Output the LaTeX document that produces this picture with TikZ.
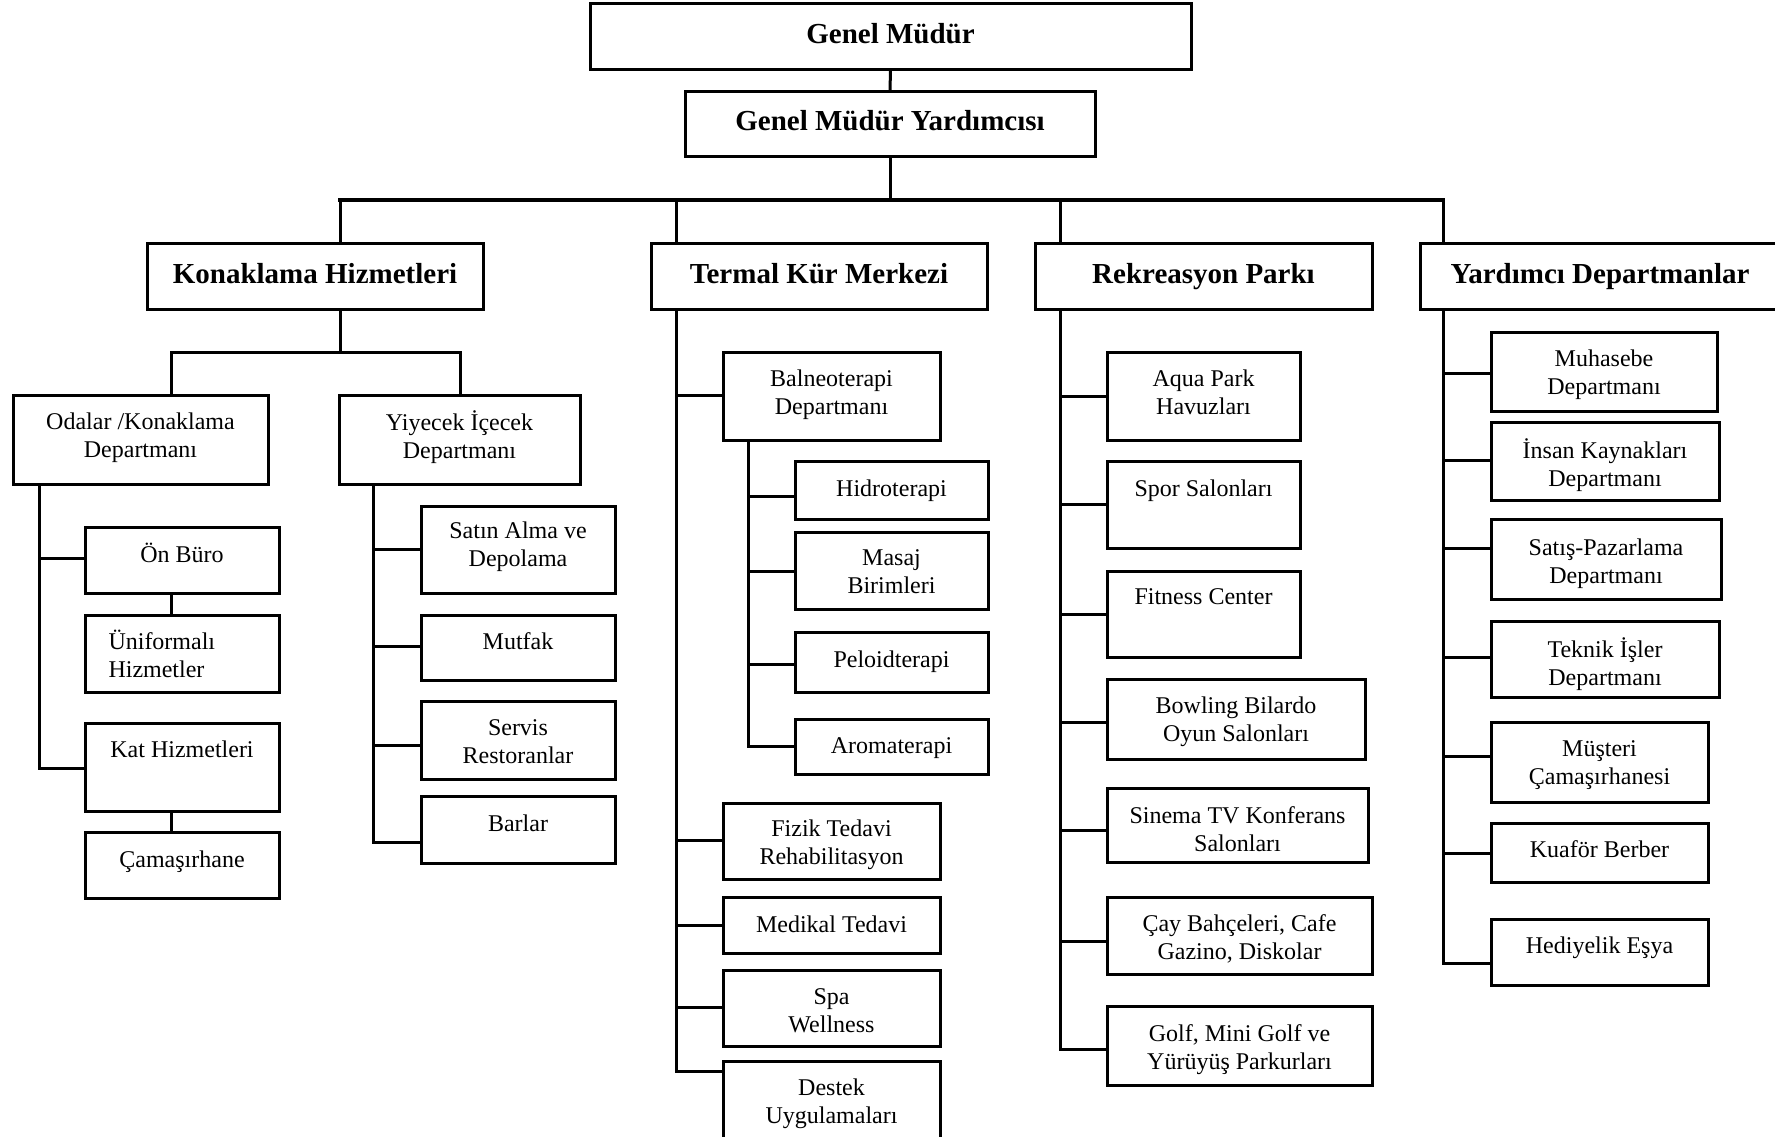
\documentclass[tikz,border=0pt]{standalone}
\usepackage{fontspec}
\setmainfont{Liberation Serif}
\usetikzlibrary{fit}
\begin{document}
\begin{tikzpicture}[x=0.5pt,y=-0.5pt,line width=1.5pt,line cap=rect,
  boxst/.style={draw,inner sep=0pt,line width=1.5pt},
  txt/.style={inner sep=0pt,align=center,text depth=3pt,yshift=-1.5pt,font=\fontsize{12}{14}\selectfont},
  btxt/.style={inner sep=0pt,align=center,text depth=3.6pt,yshift=-1.8pt,font=\fontsize{14.5}{16}\selectfont\bfseries}]
\useasboundingbox (0,0) rectangle (1775,1136);
\newcommand\bx[7]{\node[boxst,fit={(#2,#3)(#4,#5)}] (#1) {};
  \node[txt] (#1-t) at (#1.center |- 0,#6) {#7};}
\newcommand\hb[7]{\node[boxst,fit={(#2,#3)(#4,#5)}] (#1) {};
  \node[btxt] (#1-t) at (#1.center |- 0,#6) {#7};}
\newcommand\br[3]{\draw (#1 |- 0,#2) -- (#3.west |- 0,#2);}
% top
\hb{gm}{590}{3}{1191}{69}{33}{Genel Müdür}
\hb{gmy}{685}{91}{1095}{156}{120}{Genel Müdür Yardımcısı}
\hb{kh}{147}{243}{483}{309}{273}{Konaklama Hizmetleri}
\hb{tk}{651}{243}{987}{309}{273}{Termal Kür Merkezi}
\hb{rp}{1035}{243}{1372}{309}{273}{Rekreasyon Parkı}
\node[boxst,fit={(1420,243)(1780,309)}] (yd) {};
\node[btxt] (yd-t) at (1600,273) {Yardımcı Departmanlar};
% Konaklama
\bx{od}{13}{395}{268}{484}{435}{Odalar /Konaklama\\Departmanı}
\bx{yi}{339}{395}{580}{484}{435}{Yiyecek İçecek\\Departmanı}
\bx{ob}{85}{527}{279}{593}{552.5}{Ön Büro}
\node[boxst,fit={(85,615)(279,692)}] (un) {};
\node[txt,align=left,anchor=west] (un-t) at (107,654) {Üniformalı\\Hizmetler};
\bx{kat}{85}{723}{279}{811}{749.5}{Kat Hizmetleri}
\bx{cam}{85}{832}{279}{898}{859}{Çamaşırhane}
\bx{sa}{421}{506}{615}{593}{544.5}{Satın Alma ve\\Depolama}
\bx{mu}{421}{615}{615}{680}{641}{Mutfak}
\bx{se}{421}{701.5}{615}{779}{742}{Servis\\Restoranlar}
\bx{ba}{421}{796}{615}{863}{823}{Barlar}
% Termal
\bx{bal}{723}{352}{940}{440}{392}{Balneoterapi\\Departmanı}
\bx{hi}{795}{461.5}{988}{519}{488}{Hidroterapi}
\bx{ma}{795}{532}{988}{609}{572}{Masaj\\Birimleri}
\bx{pe}{795}{632}{988}{692.6}{659}{Peloidterapi}
\bx{ar}{795}{719}{988}{774}{746}{Aromaterapi}
\bx{fi}{723}{803}{940}{879}{842}{Fizik Tedavi\\Rehabilitasyon}
\bx{me}{723}{897.6}{940}{953}{924}{Medikal Tedavi}
\bx{sp}{723}{970.5}{940}{1046.5}{1011}{Spa\\Wellness}
\bx{de}{723}{1061.6}{940}{1150}{1101.5}{Destek\\Uygulamaları}
% Rekreasyon
\bx{aq}{1107}{352}{1300}{440}{392}{Aqua Park\\Havuzları}
\bx{spo}{1107}{461.5}{1300}{548.5}{488}{Spor Salonları}
\bx{fc}{1107}{571}{1300}{657}{596.6}{Fitness Center}
\bx{bo}{1107}{679.6}{1365}{759.6}{719}{Bowling Bilardo\\Oyun Salonları}
\bx{si}{1107}{788}{1368}{862.5}{828.6}{Sinema TV Konferans\\Salonları}
\bx{ca}{1107}{897}{1372}{974.5}{937}{Çay Bahçeleri, Cafe\\Gazino, Diskolar}
\bx{go}{1107}{1006.5}{1372}{1085}{1046.6}{Golf, Mini Golf ve\\Yürüyüş Parkurları}
% Yardimci
\bx{muh}{1491}{332}{1717}{411}{372}{Muhasebe\\Departmanı}
\bx{ik}{1491}{422.6}{1719}{500.5}{463}{İnsan Kaynakları\\Departmanı}
\bx{sat}{1491}{519.7}{1721}{599.6}{561}{Satış-Pazarlama\\Departmanı}
\bx{te}{1491}{621.5}{1719}{697}{661.7}{Teknik İşler\\Departmanı}
\bx{mus}{1491}{722.8}{1708}{802}{763}{Müşteri\\Çamaşırhanesi}
\bx{ku}{1491}{823}{1708}{882}{849}{Kuaför Berber}
\bx{he}{1491}{919.5}{1708}{985}{945}{Hediyelik Eşya}
% coordinates
\coordinate (bus) at (891,200);
\coordinate (kx) at (340,0);
\coordinate (tx) at (676,0);
\coordinate (rx) at (1060,0);
\coordinate (yx) at (1443,0);
\coordinate (k1) at (171,352);
\coordinate (k2) at (460,352);
\coordinate (ot) at (39,0);
\coordinate (yt) at (373,0);
\coordinate (bt) at (748,0);
% connectors top
\draw (gm.south) -- (gmy.north);
\draw (gmy.south) -- (gmy.south |- bus);
\draw[line width=2pt] (kx |- bus) -- (yx |- bus);
\draw (kx |- bus) -- (kx |- kh.north);
\draw (tx |- bus) -- (tx |- tk.north);
\draw (rx |- bus) -- (rx |- rp.north);
\draw (yx |- bus) -- (yx |- yd.north);
% Konaklama
\draw (kx |- kh.south) -- (kx |- k1);
\draw (k1) -- (k2);
\draw (k1) -- (k1 |- od.north);
\draw (k2) -- (k2 |- yi.north);
\draw (ot |- od.south) -- (ot |- 0,768);
\br{ot}{558}{ob}
\br{ot}{768}{kat}
\draw (k1 |- ob.south) -- (k1 |- un.north);
\draw (k1 |- kat.south) -- (k1 |- cam.north);
\draw (yt |- yi.south) -- (yt |- 0,842);
\br{yt}{549}{sa}
\br{yt}{646}{mu}
\br{yt}{745}{se}
\br{yt}{842}{ba}
% Termal
\draw (tx |- tk.south) -- (tx |- 0,1071);
\br{tx}{395.5}{bal}
\br{tx}{840}{fi}
\br{tx}{925}{me}
\br{tx}{1007}{sp}
\br{tx}{1071}{de}
\draw (bt |- bal.south) -- (bt |- 0,746);
\br{bt}{496}{hi}
\br{bt}{571}{ma}
\br{bt}{664.5}{pe}
\br{bt}{746}{ar}
% Rekreasyon
\draw (rx |- rp.south) -- (rx |- 0,1049);
\br{rx}{396.5}{aq}
\br{rx}{504}{spo}
\br{rx}{614.6}{fc}
\br{rx}{722.8}{bo}
\br{rx}{830.5}{si}
\br{rx}{941}{ca}
\br{rx}{1049}{go}
% Yardimci
\draw (yx |- yd.south) -- (yx |- 0,963);
\br{yx}{373.6}{muh}
\br{yx}{460}{ik}
\br{yx}{548}{sat}
\br{yx}{657}{te}
\br{yx}{756}{mus}
\br{yx}{853.4}{ku}
\br{yx}{963}{he}
\end{tikzpicture}
\end{document}
